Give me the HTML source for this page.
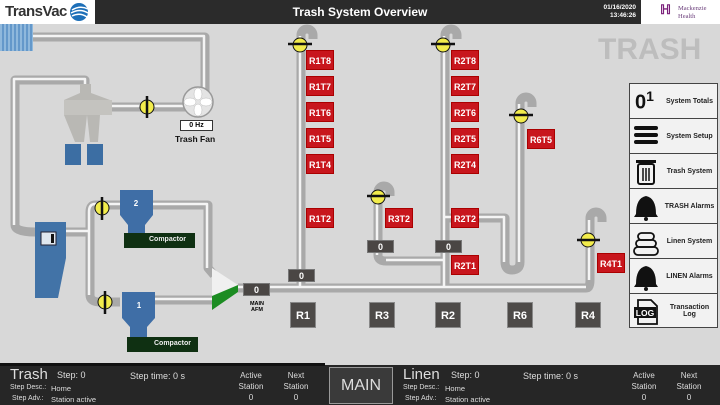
<!DOCTYPE html>
<html><head><meta charset="utf-8"><style>
*{margin:0;padding:0;box-sizing:border-box}
body{width:720px;height:405px;overflow:hidden;background:#d8d8d8;font-family:"Liberation Sans",sans-serif;position:relative}
.a{position:absolute}
.tag{position:absolute;width:28px;height:20px;background:#c8161d;color:#fff;font-size:9px;font-weight:bold;text-align:center;line-height:20px;border:1px solid #a00}
.cnt{position:absolute;width:27px;height:13px;background:#4a4644;color:#fff;font-size:9px;font-weight:bold;text-align:center;line-height:13px;border:1px solid #777}
.st{position:absolute;top:302px;width:26px;height:26px;background:#4d4a48;color:#fff;font-size:11px;font-weight:bold;text-align:center;line-height:26px;border:1px solid #888}
.mi{position:absolute;left:629px;width:89px;height:35px;border:1px solid #444;border-top:none;background:#f2f2f2;font-size:7px;font-weight:bold;color:#222}
.mi span{position:absolute;left:34px;right:2px;top:0;height:34px;display:flex;align-items:center;justify-content:center;text-align:center}
.bt{color:#ddd;font-size:8px;position:absolute}
</style></head><body>
<!-- header -->
<div class="a" style="left:0;top:0;width:720px;height:24px;background:#2b2b2b"></div>
<div class="a" style="left:0;top:0;width:95px;height:24px;background:#fff"></div>
<div class="a" style="left:5px;top:3px;font-size:15px;color:#333;font-weight:bold;letter-spacing:-0.5px">TransVac</div>
<svg class="a" style="left:68px;top:2px" width="22" height="20"><circle cx="11" cy="10" r="9" fill="#1d6fb8"/><path d="M4 8 Q12 3 20 7 M3 11 Q12 6 20 11 M4 14 Q12 10 19 15" stroke="#fff" stroke-width="1.5" fill="none"/></svg>
<div class="a" style="left:0;width:720px;top:5px;text-align:center;color:#fff;font-size:12px;font-weight:bold">Trash System Overview</div>
<div class="a" style="left:590px;top:4px;width:46px;text-align:right;color:#fff;font-size:6.5px;font-weight:bold;line-height:8px">01/16/2020<br>13:46:26</div>
<div class="a" style="left:641px;top:0;width:79px;height:24px;background:#fff"></div>
<div class="a" style="left:660px;top:2px;color:#7a1f7a;font-size:13px;font-weight:bold">ℍ</div>
<div class="a" style="left:678px;top:5px;color:#6a3d7a;font-size:6.5px;line-height:8px;font-family:'Liberation Serif',serif">Mackenzie<br>Health</div>
<div class="a" style="left:598px;top:33px;color:#bdbdbd;font-size:30px;font-weight:bold">TRASH</div>

<svg class="a" style="left:0;top:0" width="720" height="405">
<g fill="none" stroke-linejoin="round" stroke-linecap="butt">
<g stroke="#a9a9a9" stroke-width="9">
<path d="M33 37 H205 V95"/><path d="M112 107 H186"/>
<path d="M85 90 V80 H15 V225 Q15 232 35 232"/><path d="M65 232 H90"/>
<path d="M120 205 H95 Q90 205 90 212 V295 Q90 302 100 302 H120"/>
<path d="M152 205 H208 V268 L214 275"/><path d="M152 300 H212"/>
<path d="M238 288 H586 Q590 288 590 280 V220"/>
<path d="M301 288 V38"/><path d="M445 288 V38"/>
<path d="M378 200 V255 Q378 261 386 261 H445"/>
<path d="M445 218 H505 V262 Q505 270 512 270 Q520 270 520 262 V105"/>
<path d="M301 38 V35 A6 6 0 0 1 313 35 V39"/><path d="M445 38 V35 A6 6 0 0 1 457 35 V39"/>
<path d="M378 200 V192 A6 6 0 0 1 390 192 V196"/><path d="M520 110 V103 A6 6 0 0 1 532 103 V107"/><path d="M590 222 V218 A6 6 0 0 1 602 218 V222"/>
</g>
<g stroke="#f4f4f4" stroke-width="2.5">
<path d="M33 36 H204 V95"/><path d="M112 106 H186"/>
<path d="M85 90 V79 H14 V225"/><path d="M65 231 H90"/>
<path d="M120 204 H95 Q89 204 89 212 V295"/><path d="M152 204 H207 V268"/><path d="M152 299 H212"/>
<path d="M238 287 H586"/><path d="M589 280 V220"/>
<path d="M300 288 V36"/><path d="M444 288 V36"/><path d="M377 200 V192"/><path d="M377 200 V255"/><path d="M386 260 H445"/>
<path d="M445 217 H504 V262"/><path d="M519 262 V104"/>
</g></g>
<!-- grill -->
<rect x="0" y="24" width="33" height="27" fill="#8fb8dc"/>
<g stroke="#3a78b8" stroke-width="1"><path d="M3 24V51M7 24V51M11 24V51M15 24V51M19 24V51M23 24V51M27 24V51M31 24V51"/></g>
<!-- cyclone -->
<path d="M80 84 H91 V93 L110 100 V115 L100 115 L98 142 H90 L87 115 L84 142 H75 L64 115 V100 L80 93Z" fill="#b9b8b4"/>
<rect x="64" y="100" width="48" height="15" fill="#c4c3bf"/>
<rect x="65" y="144" width="16" height="21" fill="#3c6ea3"/><rect x="87" y="144" width="16" height="21" fill="#3c6ea3"/>
<!-- fan -->
<circle cx="198" cy="102" r="15" fill="#e4e4e4" stroke="#999" stroke-width="1.5"/>
<g fill="#fff" stroke="#bbb" stroke-width=".5"><ellipse cx="198" cy="94" rx="4" ry="6"/><ellipse cx="198" cy="110" rx="4" ry="6"/><ellipse cx="190" cy="102" rx="6" ry="4"/><ellipse cx="206" cy="102" rx="6" ry="4"/></g>
<!-- separator -->
<path d="M35 222 H66 V258 L58 298 H35Z" fill="#4273a7"/><rect x="41" y="232" width="15" height="13" fill="#dfe7ef" stroke="#223" stroke-width="1"/><rect x="51" y="234" width="3" height="9" fill="#111"/>
<!-- compactors -->
<path d="M120 190 H153 V215 L145 225 V235 H128 V225 L120 215Z" fill="#3f6ea6"/><text x="136" y="206" fill="#fff" font-size="8" font-weight="bold" text-anchor="middle">2</text>
<rect x="124" y="233" width="71" height="15" fill="#0f3012"/>
<path d="M122 292 H155 V318 L147 327 V337 H130 V327 L122 318Z" fill="#3f6ea6"/><text x="139" y="308" fill="#fff" font-size="8" font-weight="bold" text-anchor="middle">1</text>
<rect x="127" y="337" width="71" height="15" fill="#0f3012"/>
<!-- AFM -->
<path d="M212 268 L238 285 V290 L212 307Z" fill="#f0f0f0"/><path d="M212 296 L238 285 V292 L212 310Z" fill="#1c8c22"/>
<!-- valves -->
<g stroke="#111" stroke-width="2.5" fill="#f2ec4c">
<circle cx="147" cy="107" r="7" stroke-width="1"/><path d="M147 96V118"/>
<circle cx="102" cy="208" r="7" stroke-width="1"/><path d="M102 197V220"/>
<circle cx="105" cy="302" r="7" stroke-width="1"/><path d="M105 291V314"/>
<circle cx="300" cy="45" r="7" stroke-width="1"/><path d="M288 44H312"/>
<circle cx="443" cy="45" r="7" stroke-width="1"/><path d="M431 44H455"/>
<circle cx="378" cy="197" r="7" stroke-width="1"/><path d="M367 196H390"/>
<circle cx="521" cy="116" r="7" stroke-width="1"/><path d="M509 115H533"/>
<circle cx="588" cy="240" r="7" stroke-width="1"/><path d="M577 240H600"/>
</g>
</svg>
<div class="a" style="left:180px;top:120px;width:33px;height:11px;background:#fff;border:1px solid #333;font-size:7px;font-weight:bold;text-align:center;line-height:9px">0 Hz</div>
<div class="a" style="left:175px;top:134px;font-size:8.5px;font-weight:bold;color:#111">Trash Fan</div>
<div class="a" style="left:149px;top:236px;font-size:7px;font-weight:bold;color:#eee">Compactor</div>
<div class="a" style="left:154px;top:340px;font-size:7px;font-weight:bold;color:#eee">Compactor</div>
<div class="cnt" style="left:243px;top:283px">0</div>
<div class="a" style="left:245px;top:301px;width:24px;text-align:center;font-size:5.5px;font-weight:bold;line-height:6px">MAIN<br>AFM</div>
<div class="cnt" style="left:288px;top:269px">0</div>
<div class="cnt" style="left:367px;top:240px">0</div>
<div class="cnt" style="left:435px;top:240px">0</div>
<div class="tag" style="left:306px;top:50px">R1T8</div><div class="tag" style="left:306px;top:76px">R1T7</div><div class="tag" style="left:306px;top:102px">R1T6</div><div class="tag" style="left:306px;top:128px">R1T5</div><div class="tag" style="left:306px;top:154px">R1T4</div><div class="tag" style="left:306px;top:208px">R1T2</div>
<div class="tag" style="left:451px;top:50px">R2T8</div><div class="tag" style="left:451px;top:76px">R2T7</div><div class="tag" style="left:451px;top:102px">R2T6</div><div class="tag" style="left:451px;top:128px">R2T5</div><div class="tag" style="left:451px;top:154px">R2T4</div><div class="tag" style="left:451px;top:208px">R2T2</div><div class="tag" style="left:451px;top:255px">R2T1</div>
<div class="tag" style="left:385px;top:208px">R3T2</div>
<div class="tag" style="left:527px;top:129px">R6T5</div>
<div class="tag" style="left:597px;top:253px">R4T1</div>
<div class="st" style="left:290px">R1</div><div class="st" style="left:369px">R3</div><div class="st" style="left:435px">R2</div><div class="st" style="left:507px">R6</div><div class="st" style="left:575px">R4</div>
<!-- menu -->
<div class="a" style="left:629px;top:83px;width:89px;height:1px;background:#444"></div>
<div class="mi" style="top:84px"><div class="a" style="left:5px;top:4px;font-size:20px;color:#111">0<sup style="font-size:14px">1</sup></div><span>System Totals</span></div>
<div class="mi" style="top:119px"><span>System Setup</span></div>
<div class="mi" style="top:154px"><span>Trash System</span></div>
<div class="mi" style="top:189px"><span>TRASH Alarms</span></div>
<div class="mi" style="top:224px"><span>Linen System</span></div>
<div class="mi" style="top:259px"><span>LINEN Alarms</span></div>
<div class="mi" style="top:294px;height:34px"><span style="font-weight:bold">Transaction<br>Log</span></div>
<svg class="a" style="left:0;top:0" width="720" height="405">
<g fill="#111">
<rect x="634" y="126" width="24" height="4" rx="2"/><rect x="634" y="133" width="24" height="4" rx="2"/><rect x="634" y="140" width="24" height="4" rx="2"/>
<rect x="636" y="160" width="20" height="3"/><rect x="638" y="164" width="16" height="20" rx="2" fill="none" stroke="#111" stroke-width="2"/><path d="M643 168V181M646 168V181M649 168V181" stroke="#111" stroke-width="1.5"/>
<path d="M636 214 Q636 198 646 196 Q656 198 656 214 L658 217 H634Z"/><circle cx="646" cy="219" r="2"/>
<path d="M636 284 Q636 268 646 266 Q656 268 656 284 L658 287 H634Z"/><circle cx="646" cy="289" r="2"/>
</g>
<g fill="none" stroke="#111" stroke-width="1.8"><rect x="638" y="233" width="16" height="7" rx="3.5"/><rect x="636" y="240" width="20" height="7" rx="3.5"/><rect x="634" y="247" width="24" height="8" rx="4"/>
<path d="M638 300 H651 L657 306 V324 H638Z"/></g>
<rect x="634" y="307" width="22" height="11" fill="#111"/><text x="645" y="316" fill="#fff" font-size="8.5" font-weight="bold" text-anchor="middle">LOG</text>
</svg>
<!-- bottom -->
<div class="a" style="left:0;top:365px;width:720px;height:40px;background:#262626"></div>
<div class="a" style="left:0;top:363px;width:325px;height:3px;background:#111"></div>
<div class="a" style="left:329px;top:367px;width:64px;height:37px;background:#3a3a3a;border:1px solid #999;color:#ddd;font-size:16px;text-align:center;line-height:35px">MAIN</div>
<div class="bt" style="left:10px;top:366px;font-size:15px">Trash</div>
<div class="bt" style="left:57px;top:370px;font-size:9px">Step: 0</div>
<div class="bt" style="left:10px;top:384px;font-size:7px">Step Desc.:</div><div class="bt" style="left:51px;top:384px;font-size:7.5px">Home</div>
<div class="bt" style="left:12px;top:395px;font-size:7px">Step Adv.:</div><div class="bt" style="left:51px;top:395px;font-size:7.5px">Station active</div>
<div class="bt" style="left:130px;top:371px;font-size:9px">Step time: 0 s</div>
<div class="bt" style="left:235px;top:370px;width:32px;text-align:center;line-height:11px">Active<br>Station<br>0</div>
<div class="bt" style="left:279px;top:370px;width:34px;text-align:center;line-height:11px">Next<br>Station<br>0</div>
<div class="bt" style="left:403px;top:366px;font-size:15px">Linen</div>
<div class="bt" style="left:451px;top:370px;font-size:9px">Step: 0</div>
<div class="bt" style="left:403px;top:384px;font-size:7px">Step Desc.:</div><div class="bt" style="left:445px;top:384px;font-size:7.5px">Home</div>
<div class="bt" style="left:405px;top:395px;font-size:7px">Step Adv.:</div><div class="bt" style="left:445px;top:395px;font-size:7.5px">Station active</div>
<div class="bt" style="left:523px;top:371px;font-size:9px">Step time: 0 s</div>
<div class="bt" style="left:628px;top:370px;width:32px;text-align:center;line-height:11px">Active<br>Station<br>0</div>
<div class="bt" style="left:672px;top:370px;width:34px;text-align:center;line-height:11px">Next<br>Station<br>0</div>
</body></html>
